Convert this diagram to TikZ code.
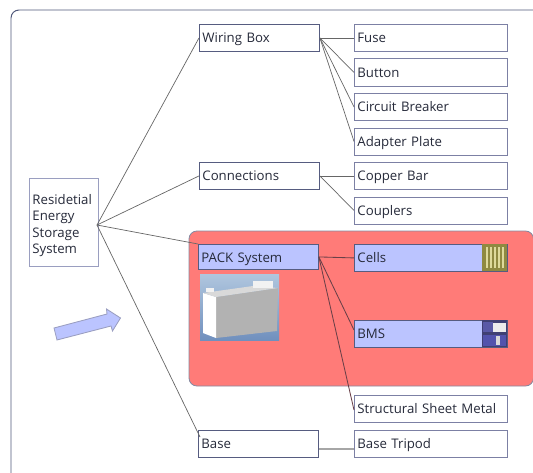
\documentclass[tikz,border=0pt]{standalone}
\usepackage{fontspec}
\setmainfont{Open Sans}
\definecolor{framecol}{HTML}{50587A}
\definecolor{boxcol}{HTML}{565C80}
\definecolor{softcol}{HTML}{9A9EC0}
\definecolor{leafcol}{HTML}{7C80A4}
\definecolor{packblue}{HTML}{BBC4FF}
\definecolor{packred}{HTML}{FF7B78}
\definecolor{linecol}{HTML}{666666}
\definecolor{packline}{HTML}{6A4048}
\definecolor{textcol}{HTML}{262A3A}
\tikzset{
  itembox/.style={draw=boxcol, line width=0.6pt, fill=white, anchor=north west, align=left, inner xsep=0.075cm, inner ysep=0pt, text=textcol, font=\fontsize{9.4}{11.8}\selectfont},
  partbox/.style={itembox, text width=2.85cm, minimum height=0.675cm, text height=9pt, text depth=1.2pt},
  leafbox/.style={itembox, draw=leafcol, text width=3.675cm, minimum height=0.675cm, text height=8pt, text depth=1.2pt},
  link/.style={draw=linecol, line width=0.5pt},
  packlink/.style={draw=packline, line width=0.6pt}
}
\begin{document}
\begin{tikzpicture}[x=0.025cm, y=-0.025cm]
  \useasboundingbox (0,0) rectangle (533,473);
  \draw[framecol, line width=0.7pt, rounded corners=0.2cm] (11,10) rectangle (560,500);
  \draw[framecol!70, fill=packred, line width=0.6pt, rounded corners=0.2cm] (189,231) rectangle (533.5,386);

  \node[itembox, draw=softcol, text width=1.575cm, minimum height=2.2cm] (storage) at (29,178) {\rule{0pt}{11.5pt}Residetial\\Energy\\Storage\\System};
  \node[partbox, text height=8pt] (wiring) at (199,24) {Wiring Box};
  \node[partbox, text height=8pt] (connections) at (199,162) {Connections};
  \node[partbox, fill=packblue, minimum height=0.625cm] (pack) at (198,244) {PACK System};
  \node[partbox] (base) at (198,429.5) {Base};

  \node[leafbox] (fuse) at (354,24) {Fuse};
  \node[leafbox] (button) at (354,58.5) {Button};
  \node[leafbox] (breaker) at (354,93) {Circuit Breaker};
  \node[leafbox] (adapter) at (354,127.5) {Adapter Plate};
  \node[leafbox] (copper) at (354,162) {Copper Bar};
  \node[leafbox] (couplers) at (354,196.5) {Couplers};
  \node[leafbox, draw=boxcol, fill=packblue] (cells) at (354,244) {Cells};
  \node[leafbox, draw=boxcol, fill=packblue] (bms) at (354,320) {BMS};
  \node[leafbox] (sheet) at (354,395) {Structural Sheet Metal};
  \node[leafbox, text height=9pt] (tripod) at (354,429.5) {Base Tripod};

  \coordinate (storageout) at (97,225);
  \coordinate (baseend) at (200,437);
  \coordinate (baseout) at (319,449);
  \coordinate (tripodin) at (354,449);
  \coordinate (bmsin) at (354,330);
  \coordinate (sheetin) at (354,410);

  \foreach \source/\dest in {
    storageout/wiring.west, storageout/connections.west, storageout/pack.north west, storageout/baseend,
    wiring.east/fuse.west, wiring.east/button.west, wiring.east/breaker.west, wiring.east/adapter.west,
    connections.east/copper.west, connections.east/couplers.west}
    \path (\source) edge[link] (\dest);
  \foreach \dest in {cells.west, bmsin, sheetin}
    \path (pack.east) edge[packlink] (\dest);
  \path (baseout) edge[draw=black!35, line width=1pt] (tripodin);

  % battery picture
  \shade[top color={rgb,255:red,176;green,198;blue,222}, bottom color={rgb,255:red,112;green,144;blue,190}] (200,274) rectangle (279,340);
  \fill[black!30] (216,297) -- (278,288) -- (277,331) -- (216,338) -- cycle;
  \fill[white] (203,293) -- (216,297) -- (216,338) -- (203,333) -- cycle;
  \fill[black!15] (203,293) -- (253,286) -- (278,288) -- (216,297) -- cycle;
  \fill[white!90!gray] (253,281) rectangle (273,288);
  \fill[white!90!gray] (206,288) rectangle (214,292);

  % small pictures
  \fill[olive!55!gray] (482,244) rectangle (507,271);
  \foreach \barx in {486,490,494,498,502}
    \fill[white!70!olive] (\barx,247) rectangle ++(1.5,21);
  \fill[black!60!blue!50!gray] (482,320) rectangle (507,347);
  \fill[blue!30!gray] (483,322) rectangle (493,332);
  \fill[white!85!gray] (493,323) rectangle (506,332);
  \fill[gray!65!blue] (483,335) rectangle (506,346);
  \fill[white!70!gray] (496,336) rectangle (500,345);

  \draw[softcol, fill=packblue, line width=0.6pt] (54,328) -- (107,314) -- (106.5,309) -- (120.5,318) -- (112.5,331) -- (111,326) -- (57,340) -- cycle;
\end{tikzpicture}
\end{document}
